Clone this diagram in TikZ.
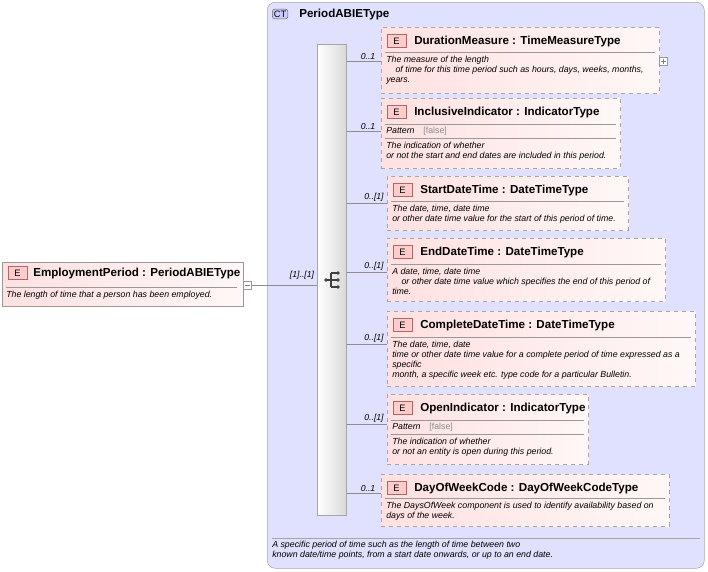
\documentclass[tikz,border=0pt]{standalone}
\usepackage{fontspec}
\setmainfont{Liberation Sans}
\begin{document}
\begin{tikzpicture}[x=0.75pt,y=-0.75pt,
 elbox/.style={draw=black!35,dashed,left color=red!12,right color=red!3,anchor=north west,inner sep=0pt},
 solidbox/.style={draw=black!35,left color=red!12,right color=red!3,anchor=north west,inner sep=0pt},
 badge/.style={draw=red!50!black!60,fill=red!20,font=\fontsize{7}{8}\selectfont,minimum width=14pt,minimum height=10pt,inner sep=0pt,anchor=west},
 ttl/.style={font=\bfseries\fontsize{8.7}{9}\selectfont,anchor=west,inner sep=0pt},
 dsc/.style={font=\itshape\fontsize{6.6}{7.4}\selectfont,anchor=north west,inner sep=0pt,align=left},
 mult/.style={font=\itshape\fontsize{6.5}{7}\selectfont,anchor=south,inner sep=1pt},
 conn/.style={draw=black!45},
 pm/.style={draw=black!40,fill=white,minimum size=6pt,inner sep=0pt}]
\useasboundingbox (0,0) rectangle (708,572);
% CT box
\node[draw=black!35,fill=blue!12,rounded corners=6pt,anchor=north west,minimum width=437*0.75pt,minimum height=566*0.75pt,inner sep=0pt] (ct) at (267,2) {};
\node[draw=black!60,fill=blue!20,rounded corners=2pt,font=\fontsize{7}{8}\selectfont,inner sep=1.2pt,anchor=west] (ctb) at (272,14) {CT};
\node[ttl] (ctt) at (299,14) {PeriodABIEType};
\draw[black!35] (272,538) -- (700,538);
\node[dsc] (ctd) at (272,541) {A specific period of time such as the length of time between two\\known date/time points, from a start date onwards, or up to an end date.};
% sequence
\node[draw=black!35,left color=white,right color=black!15,anchor=north west,minimum width=29*0.75pt,minimum height=471*0.75pt,inner sep=0pt] (seq) at (317,44) {};
\begin{scope}[black!75,line width=0.8pt]
\fill (326,280) circle (1.8);
\draw (326,280) -- (331,280) (331,273) -- (331,287) (331,273)--(338,273) (331,280)--(338,280) (331,287)--(338,287);
\foreach \yy in {273,280,287} \fill (338,\yy) circle (1.8);
\end{scope}
% Employment
\node[solidbox,minimum width=241*0.75pt,minimum height=44*0.75pt,draw=black!40] (emp) at (2,262) {};
\node[badge] (empb) at (8,273) {E};
\node[ttl] (empt) at (33,273) {EmploymentPeriod : PeriodABIEType};
\draw[black!40] (6,287) -- (237,287);
\node[dsc] (empd) at (6,291) {The length of time that a person has been employed.};
\node[pm] (emppm) at (247,285) {};
\draw[black!50] (244.5,285)--(249.5,285);
\draw[conn] (emppm) -- (seq.west |- emppm);
\node[mult] at (302,281) {[1]..[1]};
% children macro
\newcommand{\elem}[9]{% name x y w h title conny mult desc
 \node[elbox,minimum width=#4*0.75pt,minimum height=#5*0.75pt] (#1) at (#2,#3) {};
 \node[badge] (#1b) at (#2+6,#3+14) {E};
 \node[ttl] (#1t) at (#2+33,#3+14) {#6};
 \draw[conn] (seq.east |- 0,#7) -- (#1.west |- 0,#7);
 \node[mult] at (#2-13,#7) {#8};
 #9}
\elem{dm}{381}{27}{278}{66}{DurationMeasure : TimeMeasureType}{61}{0..1}{
 \draw[black!40] (385,52)--(655,52);
 \node[dsc] at (386,56) {The measure of the length\\\hspace{7pt}of time for this time period such as hours, days, weeks, months,\\years.};
 \node[pm] (dmpm) at (663,61) {}; \draw[black!50] (660.5,61)--(665.5,61) (663,58.5)--(663,63.5);}
\elem{ii}{381}{98}{239}{70}{InclusiveIndicator : IndicatorType}{131}{0..1}{
 \draw[black!40] (385,124)--(616,124) (385,138)--(616,138);
 \node[dsc] at (386,127) {Pattern\quad\upshape\color{black!45}[false]};
 \node[dsc] at (386,142) {The indication of whether\\or not the start and end dates are included in this period.};}
\elem{sd}{387}{176}{241}{54}{StartDateTime : DateTimeType}{203}{0..[1]}{
 \draw[black!40] (391,201)--(624,201);
 \node[dsc] at (392,205) {The date, time, date time\\or other date time value for the start of this period of time.};}
\elem{ed}{387}{238}{278}{63}{EndDateTime : DateTimeType}{272}{0..[1]}{
 \draw[black!40] (391,264)--(661,264);
 \node[dsc] at (392,268) {A date, time, date time\\\hspace{7pt}or other date time value which specifies the end of this period of\\time.};}
\elem{cd}{387}{311}{308}{75}{CompleteDateTime : DateTimeType}{344}{0..[1]}{
 \draw[black!40] (391,337)--(691,337);
 \node[dsc] at (392,341) {The date, time, date\\time or other date time value for a complete period of time expressed as a\\specific\\month, a specific week etc. type code for a particular Bulletin.};}
\elem{oi}{387}{394}{201}{70}{OpenIndicator : IndicatorType}{424}{0..[1]}{
 \draw[black!40] (391,420)--(584,420) (391,434)--(584,434);
 \node[dsc] at (392,423) {Pattern\quad\upshape\color{black!45}[false]};
 \node[dsc] at (392,438) {The indication of whether\\or not an entity is open during this period.};}
\elem{dw}{381}{474}{288}{52}{DayOfWeekCode : DayOfWeekCodeType}{493}{0..1}{
 \draw[black!40] (385,498)--(665,498);
 \node[dsc] at (386,502) {The DaysOfWeek component is used to identify availability based on\\days of the week.};}
\end{tikzpicture}
\end{document}
